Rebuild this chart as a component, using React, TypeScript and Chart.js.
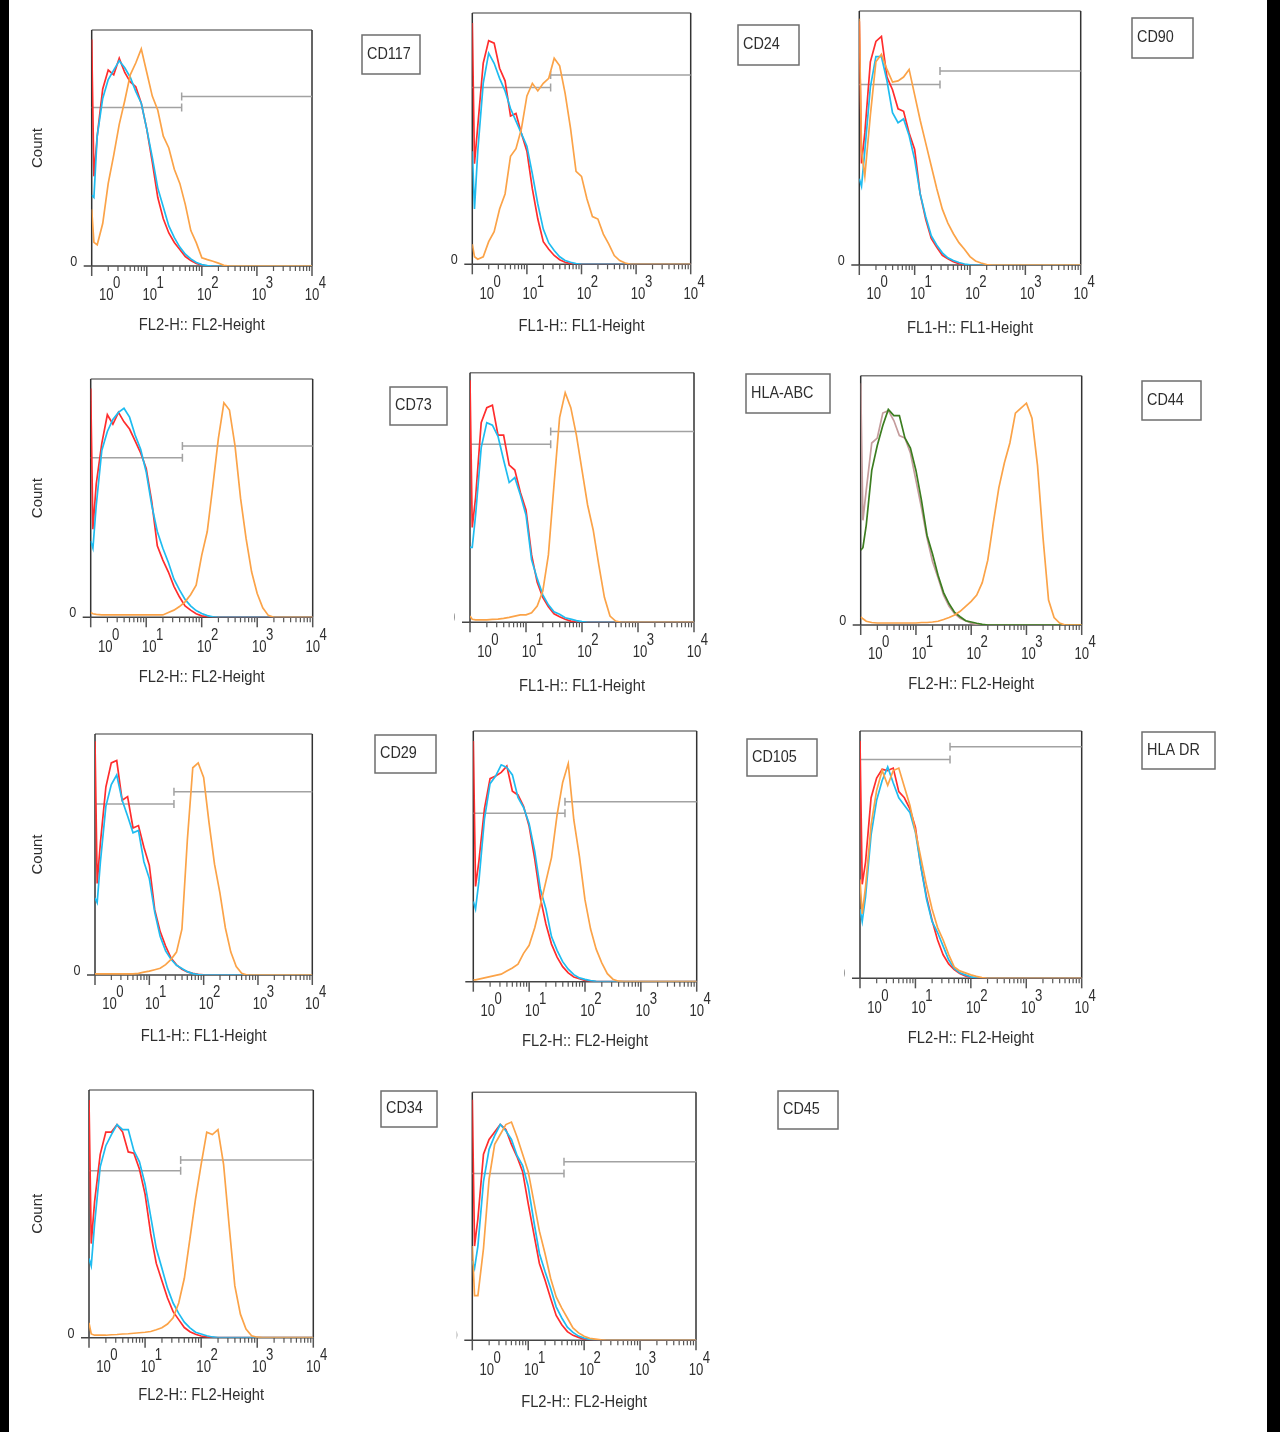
import React, { useEffect, useRef } from "react";
import { Chart, registerables } from "chart.js";

Chart.register(...registerables);

// ---- shared x grid (log10 exponents of fluorescence intensity) ----
const EXPONENTS = [0, 0.04, 0.1, 0.2, 0.3, 0.4, 0.5, 0.6, 0.7, 0.8, 0.9, 1.0, 1.1, 1.2, 1.3, 1.4, 1.5, 1.6, 1.7, 1.8, 1.9, 2.0, 2.1, 2.2, 2.3, 2.4, 2.5, 2.6, 2.7, 2.8, 2.9, 3.0, 3.1, 3.2, 3.3, 3.4, 3.5, 3.6, 3.7, 3.8, 3.9, 4.0];

// ---- axis ticks ----
const DECADE_VALUES = [1, 10, 100, 1000, 10000];
const DECADE_EXPONENT_LABELS = ["0", "1", "2", "3", "4"];
const MINOR_STEPS = [2, 3, 4, 5, 6, 7, 8, 9];
const FL1_TITLE = "FL1-H:: FL1-Height";
const FL2_TITLE = "FL2-H:: FL2-Height";

// ---- histogram counts (% of full scale) ----
const CD117_RED = [96,38,55,75,83,81,88,82,78,76,69,58,44,29,20,14,10,7,4,2.3,1.1,0.4, 0,0,0,0,0,0,0,0,0,0,0,0,0,0,0,0,0,0,0,0];
const CD117_CYAN = [30,29,55,71,79,83,87,84,80,74,69,58,46,33,25,17,12,8,5,3,1.5,0.6,0.2, 0,0,0,0,0,0,0,0,0,0,0,0,0,0,0,0,0,0,0];
const CD117_ORANGE = [24,10,9,18,35,47,60,70,81,86,92,82,72,66,55,50,41,35,26,15,9.8,3.5,2.7,2,1.2,0.3, 0,0,0,0,0,0,0,0,0,0,0,0,0,0,0,0];

const CD24_RED = [96,40,55,80,89,88,78,73,59,60,52,45,30,18,9,6,3.5,1.8,0.8,0.3, 0,0,0,0,0,0,0,0,0,0,0,0,0,0,0,0,0,0,0,0,0,0];
const CD24_CYAN = [45,22,45,72,84,80,74,69,62,57,52,47,36,24,14,8.5,5.5,3,1.5,0.8,0.3, 0,0,0,0,0,0,0,0,0,0,0,0,0,0,0,0,0,0,0,0,0];
const CD24_ORANGE = [8,3,2,3,9,13,22,28,43,46,54,67,72,69,72,74,82,79,68,54,37,35,26,19,18,12,8,3.5,1.5,0.5, 0,0,0,0,0,0,0,0,0,0,0,0];

const CD90_RED = [96,40,52,80,88,90,74,69,61.5,60.5,52,45.5,28,18,10.5,7,3.8,2.5,1.3,0.5,0.2, 0,0,0,0,0,0,0,0,0,0,0,0,0,0,0,0,0,0,0,0,0];
const CD90_CYAN = [34,31,45,70,82,82,72.5,60,56,57.5,51,41.5,28,19,11.5,7.8,4.8,2.8,1.8,1,0.4,0.1, 0,0,0,0,0,0,0,0,0,0,0,0,0,0,0,0,0,0,0,0];
const CD90_ORANGE = [97,45,35,59,80,83,77,72,72.5,74,77,67,57,48,39,30,22,16.5,12.3,8.8,6.2,3.3,1.6,0.8,0.2, 0,0,0,0,0,0,0,0,0,0,0,0,0,0,0,0,0];

const CD73_RED = [96,37,56,73,85,81,86,82,79,74,69,62.5,48.5,30,24,19,13,8.5,4.8,3,1.5,0.6,0.2, 0,0,0,0,0,0,0,0,0,0,0,0,0,0,0,0,0,0,0];
const CD73_CYAN = [32,29,47,70,78,83,86,87.7,84,76.5,70.5,61,47,36,29,23,16,11.5,7.5,4.8,2.8,1.6,0.7,0.2, 0,0,0,0,0,0,0,0,0,0,0,0,0,0,0,0,0,0];
const CD73_ORANGE = [2,1.5,1.2,1,1,1,1,1,1,1,1,1,1,1,1,2,3,4.5,6.5,9.5,13.5,26,36,55,75,90,87,72,50,33,19,10,4,0.8, 0,0,0,0,0,0,0,0];

const HLA_ABC_RED = [97,38,50,80,86,87,75,75,63,61,52,45,27,16,10,6.2,3.4,2.2,1.2,0.5,0.2, 0,0,0,0,0,0,0,0,0,0,0,0,0,0,0,0,0,0,0,0,0];
const HLA_ABC_CYAN = [30,30,43,70,80,79,74.5,65,56,58,51,43,25,17.5,11,7,4.2,3.2,1.8,1.3,0.7,0.3, 0,0,0,0,0,0,0,0,0,0,0,0,0,0,0,0,0,0,0,0];
const HLA_ABC_ORANGE = [2.5,1.2,1,1,1,1.2,1.3,1.6,2,2.5,3,3,3.8,6.5,12.5,27,55,82,92,86,75,61,47,37,23,10,2.5,0.5, 0,0,0,0,0,0,0,0,0,0,0,0,0,0];

const CD44_MAUVE = [97,42,54,73,75,85,86,82,76,75,69,58,47,35,25.5,19,12,7.5,4.5,2.7,1.7,0.7,0.2, 0,0,0,0,0,0,0,0,0,0,0,0,0,0,0,0,0,0,0];
const CD44_GREEN = [30,31,40,62,72,80,86.5,84,84,75,71,62,50,36,28.5,20,13,8.5,5,3.3,1.7,1.2,0.7,0.3, 0,0,0,0,0,0,0,0,0,0,0,0,0,0,0,0,0,0];
const CD44_ORANGE = [3.3,2.5,1.5,1,0.8,0.8,0.8,0.8,0.8,0.8,0.8,0.8,1,1,1.2,1.5,2.2,3,4,5.5,7.5,9.5,12,17,26,41,55,65,73,85,87,89,83,64,35,10,3,0.8, 0,0,0,0];

const CD29_RED = [97,38,55,78,88,89,72.5,74,61,62,53,45.5,27,18,12,7,4.2,2.4,1.3,0.7,0.3,0.1, 0,0,0,0,0,0,0,0,0,0,0,0,0,0,0,0,0,0,0,0];
const CD29_CYAN = [32,30,47,70,79,83,72.5,66,59,60,47,40,26,16,10,6.5,4,2.7,1.4,0.6,0.2, 0,0,0,0,0,0,0,0,0,0,0,0,0,0,0,0,0,0,0,0,0];
const CD29_ORANGE = [0.5,0.5,0.5,0.5,0.5,0.5,0.5,0.5,0.5,0.7,1.2,1.6,2.2,2.8,4.3,6.5,9.5,19,56,86,88,82,63,46,34,19.5,9.5,3.5,0.7, 0,0,0,0,0,0,0,0,0,0,0,0,0];

const CD105_RED = [96,38,48,69,81,82,83.5,86,76,74.5,70,62,49,33.5,23,15,9.8,6,3.5,1.9,1.2,0.5,0.2, 0,0,0,0,0,0,0,0,0,0,0,0,0,0,0,0,0,0,0];
const CD105_CYAN = [32,29,40,65,79,82,86.5,85.5,82.5,73.5,69.5,63,52,37,29,18,12.5,8,5,2.8,1.5,0.9,0.4,0.1, 0,0,0,0,0,0,0,0,0,0,0,0,0,0,0,0,0,0];
const CD105_ORANGE = [0.7,0.7,1,1.5,2,2.5,3,4.3,5.5,7,11.3,14.5,21.5,30.5,40,49.5,66.5,79.5,87,64.5,50,32.6,21,13,7.5,3.2,1,0.2, 0,0,0,0,0,0,0,0,0,0,0,0,0,0];

const HLA_DR_RED = [96,38,47,73,81,84.5,84,85,75.5,73,68.5,61,45,33,23.5,15.5,9.5,5.8,3.5,1.9,1,0.4, 0,0,0,0,0,0,0,0,0,0,0,0,0,0,0,0,0,0,0,0];
const HLA_DR_CYAN = [28,23,33,58,72,80,85.5,79,73,70,67,59,45,32,23,18.5,13,7.5,4,2.2,1.4,0.6,0.2, 0,0,0,0,0,0,0,0,0,0,0,0,0,0,0,0,0,0,0];
const HLA_DR_ORANGE = [40,26,37,62,76,84,78,84,85,77.5,70,59.5,48.5,37.5,28,20.5,15.5,9.6,4.6,3,2.2,1.4,0.8,0.3, 0,0,0,0,0,0,0,0,0,0,0,0,0,0,0,0,0,0];

const CD34_RED = [96,38,55,74,83,83,86,83,75,74.5,68,58,42,30,23,16,10.5,7.3,4.1,2.4,1.4,0.7,0.3, 0,0,0,0,0,0,0,0,0,0,0,0,0,0,0,0,0,0,0];
const CD34_CYAN = [32,29,46,69,77.5,82,86,84,84,75.5,71,62,49,36,28,20,14,9.8,6.3,4,2.2,1.5,0.8,0.3, 0,0,0,0,0,0,0,0,0,0,0,0,0,0,0,0,0,0];
const CD34_ORANGE = [6,1.5,1,1,1,1.2,1.3,1.5,1.6,1.8,2,2.2,2.5,3.2,4,5.5,8,14,24,40,56,70,83,82,84,70,45,21,9.5,3.5,0.8,0.2, 0,0,0,0,0,0,0,0,0,0];

const CD45_RED = [97,38,49,75,81,84,87,85,79,74,68,55,43,31,24.3,17,10,6.3,3.5,2,1.2,0.5,0.2, 0,0,0,0,0,0,0,0,0,0,0,0,0,0,0,0,0,0,0];
const CD45_CYAN = [32,29,38,64,77,82.5,87,84.5,81,74.5,70.5,62,48,35,27.7,21,13.5,9,5.3,3.2,1.7,0.9,0.4, 0,0,0,0,0,0,0,0,0,0,0,0,0,0,0,0,0,0,0];
const CD45_ORANGE = [38,18,18,37,65,79,83,87,88,82,75,68,56,44,35,25,17.5,13,9,5,3,1.6,0.8,0.5,0.2, 0,0,0,0,0,0,0,0,0,0,0,0,0,0,0,0,0];

// ---- gates: [split intensity, lower bar count, upper bar count] ----
const CD117_GATE = [43, 67.2, 71.8];
const CD24_GATE = [27.2, 70.4, 75.3];
const CD90_GATE = [28.7, 71.1, 76.4];
const CD73_GATE = [44.9, 67, 71.9];
const HLA_ABC_GATE = [27.6, 71.3, 76.4];
const CD29_GATE = [28.4, 71, 76];
const CD105_GATE = [43.8, 67.2, 71.8];
const HLA_DR_GATE = [42.1, 88.5, 93.6];
const CD34_GATE = [43.1, 67.4, 71.7];
const CD45_GATE = [43.6, 67.3, 72];

// ---- styles ----
const RED = "#ff2d2d";
const CYAN = "#1fbcf0";
const ORANGE = "#fba348";
const GREEN = "#3c7d20";
const MAUVE = "#c49c9c";
const TEXT = "#2e2e2e";
const FONT = '"Liberation Sans", Arial, Helvetica, sans-serif';

type Panel = {
  name: string;
  box: number[];
  title: string;
  titleY: number;
  tag: number[];
  zero: "full" | "clip" | "none";
  count: boolean;
  gate: number[] | null;
  series: [number[], string][];
};

const PANELS: Panel[] = [
  { name: "CD117", box: [91.7, 30, 312, 266], title: FL2_TITLE, titleY: 326, tag: [362, 35, 420, 74], zero: "full", count: true, gate: CD117_GATE, series: [[CD117_ORANGE, ORANGE], [CD117_CYAN, CYAN], [CD117_RED, RED]] },
  { name: "CD24", box: [472.3, 13, 690.7, 264.3], title: FL1_TITLE, titleY: 327, tag: [738, 25, 799, 65], zero: "full", count: false, gate: CD24_GATE, series: [[CD24_ORANGE, ORANGE], [CD24_CYAN, CYAN], [CD24_RED, RED]] },
  { name: "CD90", box: [859.3, 11, 1080.7, 265], title: FL1_TITLE, titleY: 328.5, tag: [1132, 18, 1193, 58], zero: "full", count: false, gate: CD90_GATE, series: [[CD90_ORANGE, ORANGE], [CD90_CYAN, CYAN], [CD90_RED, RED]] },
  { name: "CD73", box: [90.7, 379, 312.7, 617.3], title: FL2_TITLE, titleY: 677.5, tag: [390, 387, 447, 425], zero: "full", count: true, gate: CD73_GATE, series: [[CD73_ORANGE, ORANGE], [CD73_CYAN, CYAN], [CD73_RED, RED]] },
  { name: "HLA-ABC", box: [470, 372.7, 694, 622.3], title: FL1_TITLE, titleY: 686.7, tag: [746, 374, 830, 413], zero: "clip", count: false, gate: HLA_ABC_GATE, series: [[HLA_ABC_ORANGE, ORANGE], [HLA_ABC_CYAN, CYAN], [HLA_ABC_RED, RED]] },
  { name: "CD44", box: [860.7, 375.7, 1081.7, 625], title: FL2_TITLE, titleY: 685, tag: [1142, 381, 1201, 420], zero: "full", count: false, gate: null, series: [[CD44_ORANGE, ORANGE], [CD44_GREEN, GREEN], [CD44_MAUVE, MAUVE]] },
  { name: "CD29", box: [95, 734, 312.3, 975], title: FL1_TITLE, titleY: 1036.7, tag: [375, 735, 436, 773], zero: "full", count: true, gate: CD29_GATE, series: [[CD29_ORANGE, ORANGE], [CD29_CYAN, CYAN], [CD29_RED, RED]] },
  { name: "CD105", box: [473.3, 731, 696.7, 981.7], title: FL2_TITLE, titleY: 1041.7, tag: [747, 739, 817, 776], zero: "none", count: false, gate: CD105_GATE, series: [[CD105_ORANGE, ORANGE], [CD105_CYAN, CYAN], [CD105_RED, RED]] },
  { name: "HLA DR", box: [860, 731, 1081.7, 978.3], title: FL2_TITLE, titleY: 1038.5, tag: [1142, 732, 1215, 769], zero: "clip", count: false, gate: HLA_DR_GATE, series: [[HLA_DR_ORANGE, ORANGE], [HLA_DR_CYAN, CYAN], [HLA_DR_RED, RED]] },
  { name: "CD34", box: [89, 1090, 313.3, 1337.7], title: FL2_TITLE, titleY: 1396, tag: [381, 1091, 437, 1127], zero: "full", count: true, gate: CD34_GATE, series: [[CD34_ORANGE, ORANGE], [CD34_CYAN, CYAN], [CD34_RED, RED]] },
  { name: "CD45", box: [472.3, 1092.3, 696, 1340.3], title: FL2_TITLE, titleY: 1402.5, tag: [778, 1091, 838, 1129], zero: "clip", count: false, gate: CD45_GATE, series: [[CD45_ORANGE, ORANGE], [CD45_CYAN, CYAN], [CD45_RED, RED]] },
];

const LABEL_NUDGE = [14.5, 3, 2.5, 2, 0];
const PAD_L = 75, PAD_T = 25, PAD_R = 160, PAD_B = 85;

function drawText(ctx: CanvasRenderingContext2D, text: string, x: number, y: number, size: number, sx: number, align: CanvasTextAlign) {
  ctx.save();
  ctx.translate(x, y);
  ctx.scale(sx, 1);
  ctx.font = `${size}px ${FONT}`;
  ctx.textAlign = align;
  ctx.textBaseline = "middle";
  ctx.fillStyle = TEXT;
  ctx.fillText(text, 0, 0);
  ctx.restore();
}

function textWidth(ctx: CanvasRenderingContext2D, text: string, size: number, sx: number) {
  ctx.save();
  ctx.font = `${size}px ${FONT}`;
  const w = ctx.measureText(text).width * sx;
  ctx.restore();
  return w;
}

function decorPlugin(p: Panel, ox: number, oy: number) {
  return {
    id: "flowDecor",
    beforeDatasetsDraw(chart: any) {
      const ctx: CanvasRenderingContext2D = chart.ctx;
      const a = chart.chartArea;
      const xs = chart.scales.x;
      const ys = chart.scales.y;
      const y0 = ys.getPixelForValue(0);
      ctx.save();

      // frame
      ctx.lineWidth = 1.5;
      ctx.strokeStyle = "#7a7a7a";
      ctx.beginPath();
      ctx.moveTo(a.left, a.top);
      ctx.lineTo(a.right, a.top);
      ctx.stroke();
      ctx.strokeStyle = "#333";
      ctx.beginPath();
      ctx.moveTo(a.left, a.top);
      ctx.lineTo(a.left, y0);
      ctx.moveTo(a.right, a.top);
      ctx.lineTo(a.right, y0);
      ctx.stroke();

      // x axis baseline (extends left as the zero tick)
      ctx.strokeStyle = "#444";
      ctx.beginPath();
      ctx.moveTo(a.left - 8, y0);
      ctx.lineTo(a.right, y0);
      ctx.stroke();

      // ticks
      ctx.strokeStyle = "#555";
      for (let k = 0; k < DECADE_VALUES.length; k++) {
        const px = xs.getPixelForValue(DECADE_VALUES[k]);
        ctx.lineWidth = 1.5;
        ctx.beginPath();
        ctx.moveTo(px, y0);
        ctx.lineTo(px, y0 + 10);
        ctx.stroke();
        if (k < DECADE_VALUES.length - 1) {
          ctx.lineWidth = 1.2;
          for (const m of MINOR_STEPS) {
            const mx = xs.getPixelForValue(DECADE_VALUES[k] * m);
            ctx.beginPath();
            ctx.moveTo(mx, y0);
            ctx.lineTo(mx, y0 + 5);
            ctx.stroke();
          }
        }
      }

      // decade labels 10^k
      for (let k = 0; k < DECADE_VALUES.length; k++) {
        const px = xs.getPixelForValue(DECADE_VALUES[k]) + LABEL_NUDGE[k];
        const wBase = textWidth(ctx, "10", 16, 0.82);
        drawText(ctx, "10", px, y0 + 30, 16, 0.82, "center");
        drawText(ctx, DECADE_EXPONENT_LABELS[k], px + wBase / 2 - 0.5, y0 + 18, 16, 0.82, "left");
      }

      // zero label
      if (p.zero !== "none") {
        ctx.save();
        if (p.zero === "clip") {
          ctx.beginPath();
          ctx.rect(a.left - 15.5, 0, 40, chart.height);
          ctx.clip();
        }
        drawText(ctx, "0", a.left - 18, y0 - 4, 14, 0.9, "center");
        ctx.restore();
      }

      // axis title
      drawText(ctx, p.title, (a.left + a.right) / 2, p.titleY - oy, 16, 0.92, "center");

      // y label
      if (p.count) {
        ctx.save();
        ctx.translate(38 - ox, (a.top + a.bottom) / 2);
        ctx.rotate(-Math.PI / 2);
        ctx.font = `15px ${FONT}`;
        ctx.textAlign = "center";
        ctx.textBaseline = "middle";
        ctx.fillStyle = TEXT;
        ctx.fillText("Count", 0, 0);
        ctx.restore();
      }

      // marker tag box
      const [tx0, ty0, tx1, ty1] = p.tag;
      ctx.lineWidth = 1.5;
      ctx.strokeStyle = "#6e6e6e";
      ctx.strokeRect(tx0 - ox, ty0 - oy, tx1 - tx0, ty1 - ty0);
      drawText(ctx, p.name, tx0 - ox + 5, (ty0 + ty1) / 2 - oy, 16, 0.9, "left");

      // gate bars
      if (p.gate) {
        const [split, low, high] = p.gate;
        const sx = xs.getPixelForValue(split);
        const yl = ys.getPixelForValue(low);
        const yh = ys.getPixelForValue(high);
        ctx.strokeStyle = "#a2a2a2";
        ctx.lineWidth = 1.5;
        ctx.beginPath();
        ctx.moveTo(xs.getPixelForValue(DECADE_VALUES[0]), yl);
        ctx.lineTo(sx, yl);
        ctx.moveTo(sx, yl - 4);
        ctx.lineTo(sx, yl + 4);
        ctx.moveTo(sx, yh - 4);
        ctx.lineTo(sx, yh + 4);
        ctx.moveTo(sx, yh);
        ctx.lineTo(xs.getPixelForValue(DECADE_VALUES[DECADE_VALUES.length - 1]), yh);
        ctx.stroke();
      }
      ctx.restore();
    },
  };
}

function HistogramPanel({ p }: { p: Panel }) {
  const ref = useRef<HTMLCanvasElement>(null);
  const [L, T, R, B] = p.box;
  const ox = Math.floor(L) - PAD_L;
  const oy = Math.floor(T) - PAD_T;
  const w = Math.ceil(R) + PAD_R - ox;
  const h = Math.ceil(B) + PAD_B - oy;

  useEffect(() => {
    if (!ref.current) return;
    const datasets = p.series.map(([values, color]) => ({
      data: values.map((v, i) => ({ x: Math.pow(10, EXPONENTS[i]), y: v })),
      borderColor: color,
      borderWidth: 1.7,
      pointRadius: 0,
      tension: 0,
      fill: false,
    }));
    const chart = new Chart(ref.current, {
      type: "line",
      data: { datasets },
      options: {
        animation: false,
        responsive: false,
        devicePixelRatio: 1,
        events: [],
        layout: {
          autoPadding: false,
          padding: { left: L - ox, top: T - oy, right: w - (R - ox), bottom: h - (B - oy) },
        },
        plugins: { legend: { display: false }, tooltip: { enabled: false }, title: { display: false } },
        scales: {
          x: { type: "logarithmic", min: 1, max: 10000, display: false },
          y: { type: "linear", min: 0, max: 100, display: false },
        },
      },
      plugins: [decorPlugin(p, ox, oy)],
    } as any);
    return () => chart.destroy();
  }, []);

  return <canvas ref={ref} width={w} height={h} style={{ position: "absolute", left: ox, top: oy }} />;
}

export default function App() {
  return (
    <div style={{ position: "absolute", left: 0, top: 0, width: 1280, height: 1432, background: "#fff", overflow: "hidden" }}>
      {PANELS.map((p) => (
        <HistogramPanel key={p.name} p={p} />
      ))}
      <div style={{ position: "absolute", left: 0, top: 0, width: 9, height: 1432, background: "#000" }} />
      <div style={{ position: "absolute", left: 1267, top: 0, width: 13, height: 1432, background: "#000" }} />
    </div>
  );
}
